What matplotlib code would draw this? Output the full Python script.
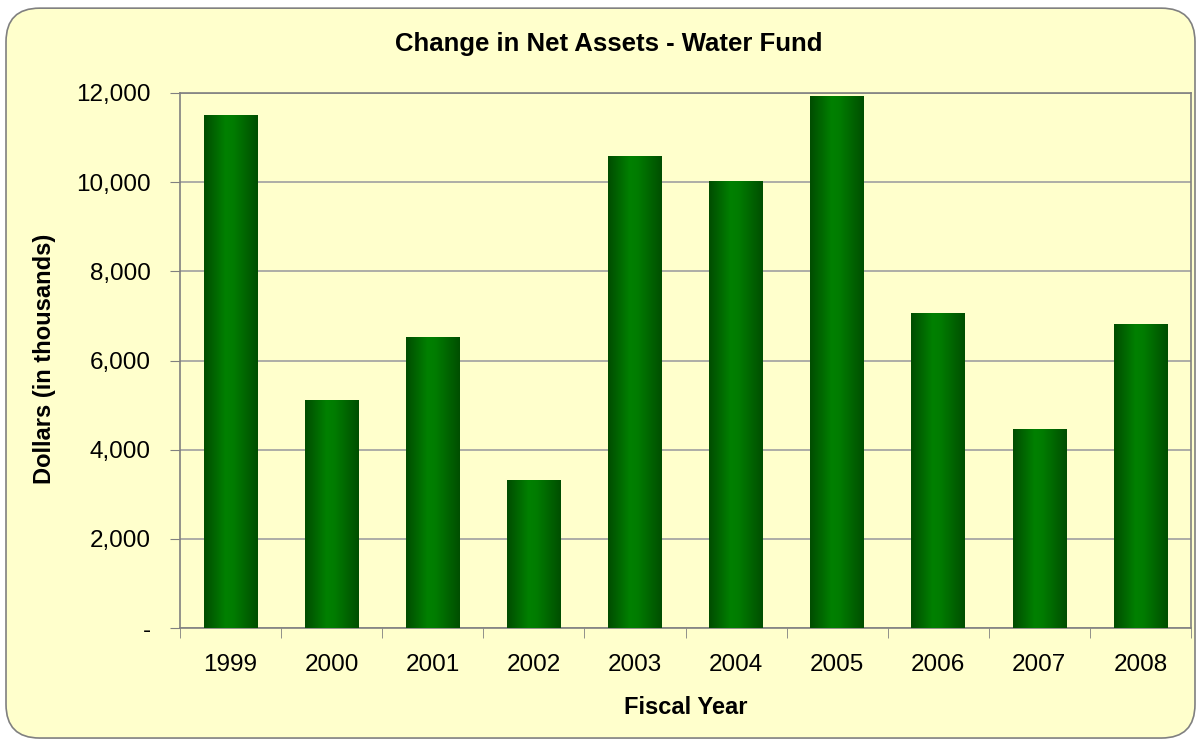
import numpy as np
import matplotlib.pyplot as plt
from matplotlib.patches import FancyBboxPatch
from matplotlib.colors import LinearSegmentedColormap
from matplotlib.ticker import FuncFormatter

# ------------------------------
# Data
# ------------------------------
years = ["1999", "2000", "2001", "2002", "2003", "2004", "2005", "2006", "2007", "2008"]
net_assets = [11500, 5120, 6530, 3320, 10590, 10030, 11940, 7070, 4460, 6820]

plt.rcParams["font.family"] = ["Liberation Sans", "DejaVu Sans"]

BG = "#FFFFCC"
GRID = "#A0A0A0"
W, H = 1201, 741

fig = plt.figure(figsize=(W / 100, H / 100), dpi=100)
fig.patch.set_facecolor("white")

# rounded chart border
border = FancyBboxPatch((0.005, 0.004), 0.99, 0.985,
                        boxstyle="round,pad=0,rounding_size=0.028",
                        transform=fig.transFigure, facecolor=BG,
                        edgecolor="#808080", linewidth=1.2,
                        mutation_aspect=W / H, zorder=-5)
fig.patches.append(border)

ax = fig.add_axes([180 / W, 1 - 628 / H, (1191 - 180) / W, (628 - 93) / H])
ax.set_facecolor(BG)

x = np.arange(len(years))
bars = ax.bar(x, net_assets, width=0.53, color="none", zorder=3)

# green cylinder-like gradient on each bar
grad_cmap = LinearSegmentedColormap.from_list(
    "bargrad", [(0, "#004C00"), (0.4, "#008000"), (0.55, "#007C00"), (1, "#004E00")])
grad = np.linspace(0, 1, 256).reshape(1, -1)
for b in bars:
    bx, by = b.get_x(), b.get_y()
    im = ax.imshow(grad, cmap=grad_cmap, aspect="auto",
                   extent=[bx, bx + b.get_width(), by, by + b.get_height()],
                   zorder=3, interpolation="bilinear")
    im.set_clip_path(b)

ax.set_xlim(-0.5, len(years) - 0.5)
ax.set_ylim(0, 12000)
ax.set_yticks(range(0, 12001, 2000))
ax.yaxis.set_major_formatter(FuncFormatter(lambda v, p: "-" if v == 0 else f"{int(v):,}"))
ax.yaxis.grid(True, color=GRID, linewidth=1.2, zorder=1)
ax.set_axisbelow(True)

ax.set_xticks(x)
ax.set_xticklabels(years)
ax.set_xticks(np.arange(-0.5, len(years)), minor=True)
ax.tick_params(axis="x", which="major", length=0, pad=19, labelsize=17.5)
ax.tick_params(axis="x", which="minor", length=7, color="#808080", direction="out")
ax.tick_params(axis="y", length=7, color="#808080", direction="out", pad=14, labelsize=17.5)

for s in ax.spines.values():
    s.set_color("#808080")
    s.set_linewidth(1.2)

# titles / axis labels placed in figure pixels
fig.text(609 / W, 1 - 44 / H, "Change in Net Assets - Water Fund",
         ha="center", va="center", fontsize=18.5, fontweight="bold")
fig.text(686 / W, 1 - 708 / H, "Fiscal Year",
         ha="center", va="center", fontsize=17, fontweight="bold")
fig.text(45 / W, 1 - 359 / H, "Dollars (in thousands)", rotation=90,
         ha="center", va="center", fontsize=17, fontweight="bold")

fig.savefig("out.png", dpi=100, facecolor=fig.get_facecolor())
